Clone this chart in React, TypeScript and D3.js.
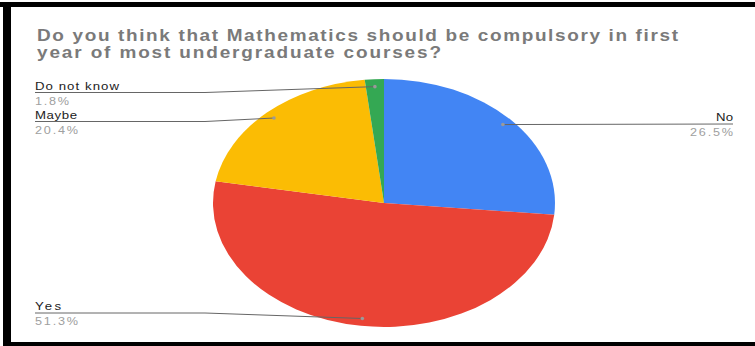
import React from "react";
import * as d3 from "d3";

const categories = ["No", "Yes", "Maybe", "Do not know"];
const values = [26.5, 51.3, 20.4, 1.8];
const percentLabels = ["26.5%", "51.3%", "20.4%", "1.8%"];
const colors = ["#4285F4", "#EA4335", "#FBBC04", "#34A853"];
const titleLines = [
  "Do you think that Mathematics should be compulsory in first",
  "year of most undergraduate courses?",
];

// layout of the leader labels (side, y of the leader line, text widths)
const labelLayout: Record<string, { side: "left" | "right"; lineY: number; nameW: number; pctW: number }> = {
  "No": { side: "right", lineY: 124, nameW: 17, pctW: 43 },
  "Yes": { side: "left", lineY: 313, nameW: 26, pctW: 43 },
  "Maybe": { side: "left", lineY: 121.5, nameW: 42, pctW: 43 },
  "Do not know": { side: "left", lineY: 92.5, nameW: 84, pctW: 34 },
};

const W = 755;
const H = 346;
const cx = 384;
const cy = 203;
const R = 171;
const yScale = 124 / 171;
const SX = 1.15; // horizontal stretch of the original picture

function StretchText(props: {
  x: number;
  y: number;
  w: number;
  anchor: "start" | "end";
  size: number;
  fill: string;
  weight?: number;
  children: string;
}) {
  const { x, y, w, anchor, size, fill, weight, children } = props;
  return (
    <text
      transform={`translate(${x},${y}) scale(${SX},1)`}
      textAnchor={anchor}
      fontFamily="'Liberation Sans', Arial, sans-serif"
      fontSize={size}
      fontWeight={weight || 400}
      fill={fill}
      textLength={w / SX}
      lengthAdjust="spacing"
    >
      {children}
    </text>
  );
}

export default function App() {
  const pie = d3.pie<number>().sort(null).value((d) => d)(values);
  const arc = d3.arc<d3.PieArcDatum<number>>().innerRadius(0).outerRadius(R);
  const dotArc = d3.arc<d3.PieArcDatum<number>>().innerRadius(R * 0.94).outerRadius(R * 0.94);
  const leftX = 35;
  const rightX = 733;
  const bendX = 205;

  return (
    <div style={{ position: "absolute", left: 0, top: 0 }}>
      <svg width={W} height={H} style={{ display: "block" }}>
        <rect x={0} y={0} width={W} height={H} fill="#ffffff" />
        {/* frame */}
        <rect x={0} y={2} width={W} height={5} fill="#000" />
        <rect x={3} y={2} width={8} height={H - 2} fill="#000" />
        <rect x={3} y={342} width={W - 3} height={4} fill="#000" />
        {/* title */}
        {titleLines.map((t, i) => (
          <StretchText
            key={i}
            x={37}
            y={41 + i * 17}
            w={i === 0 ? 641 : 404}
            anchor="start"
            size={16.5}
            weight={700}
            fill="#7a7a7a"
          >
            {t}
          </StretchText>
        ))}
        {/* pie */}
        <g transform={`translate(${cx},${cy}) scale(1,${yScale})`}>
          {pie.map((d, i) => (
            <path key={i} d={arc(d) || ""} fill={colors[i]} />
          ))}
        </g>
        {/* leaders & labels */}
        {pie.map((d, i) => {
          const name = categories[i];
          const lay = labelLayout[name];
          const [dx, dy] = dotArc.centroid(d);
          const px = cx + dx;
          const py = cy + dy * yScale;
          const ly = lay.lineY;
          let pts: [number, number][];
          if (lay.side === "left") {
            pts = [
              [leftX, ly],
              [bendX, ly],
              [px, py],
            ];
          } else {
            pts = [
              [px, py],
              [rightX, ly],
            ];
          }
          const tx = lay.side === "left" ? leftX : rightX;
          const anchor = lay.side === "left" ? "start" : "end";
          return (
            <g key={name}>
              <path
                d={d3.line()(pts) || ""}
                fill="none"
                stroke="#666"
                strokeWidth={1}
              />
              <circle cx={px} cy={py} r={1.8} fill="#9a9a9a" />
              <StretchText x={tx} y={ly - 3} w={lay.nameW} anchor={anchor} size={11.5} fill="#222">
                {name}
              </StretchText>
              <StretchText x={tx} y={ly + 12} w={lay.pctW} anchor={anchor} size={11} fill="#a0a0a0">
                {percentLabels[i]}
              </StretchText>
            </g>
          );
        })}
      </svg>
    </div>
  );
}
